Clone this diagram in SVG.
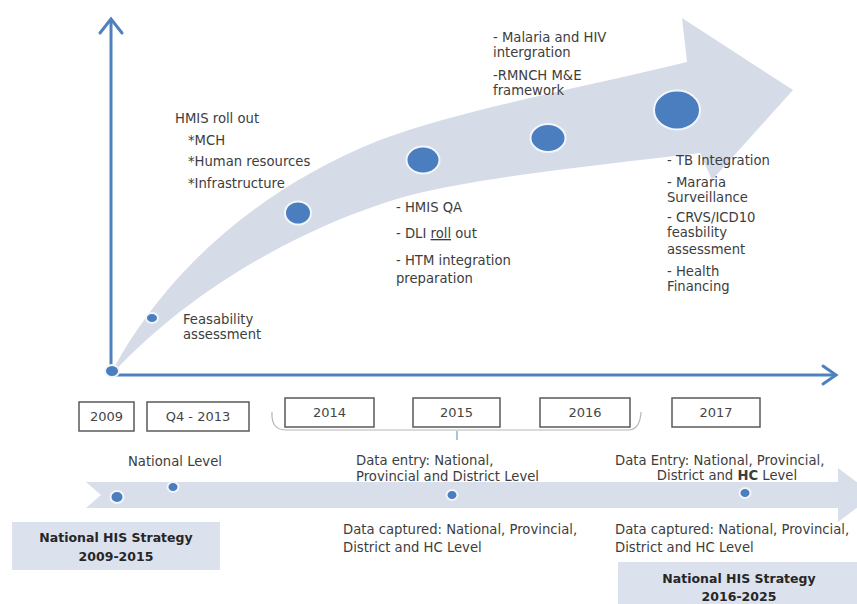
<svg xmlns="http://www.w3.org/2000/svg" width="857" height="604" viewBox="0 0 857 604">
<style>
.t{font-family:"DejaVu Sans","Liberation Sans",sans-serif;font-size:13.2px;fill:#3d3d3d}
.y{font-family:"DejaVu Sans","Liberation Sans",sans-serif;font-size:13px;fill:#454545;text-anchor:middle}
.b{font-family:"DejaVu Sans","Liberation Sans",sans-serif;font-size:12.5px;font-weight:bold;fill:#262626;text-anchor:middle}
.dot{fill:#4a7ebf;stroke:#f2f6fb;stroke-width:2}
.axis{fill:none;stroke:#4f81bd;stroke-width:3;stroke-linecap:round;stroke-linejoin:miter}
.yb{fill:#fff;stroke:#5a5a5a;stroke-width:1.5}
.band{fill:#d5dce8}
.hb{fill:#dbe2ee}
</style>
<rect width="857" height="604" fill="#fff"/>

<g id="growth-arrow">
<path class="band" d="M113,370 C150,300 230,200 380,140 C460,110 580,88 687,62 L682,18 L793,90 L712,180 L700,153 C600,165 470,178 400,198 C300,228 190,290 113,373 Z"/>
</g>

<g id="connectors">
<polyline class="axis" points="111,373 111,20"/>
<polyline class="axis" points="100,33 111,19 122,33"/>
<polyline class="axis" points="111,375 835,375"/>
<polyline class="axis" points="823,366 836,375 823,384"/>
<path d="M272,412 Q271,430 286,430 L628,430 Q640,430 641,412" fill="none" stroke="#b5b5b5" stroke-width="1.2"/>
<line x1="457" y1="431" x2="457" y2="440" stroke="#7a98c6" stroke-width="1.2"/>
</g>

<g id="origin"><ellipse class="dot" cx="112" cy="371" rx="7" ry="6"/></g>

<g id="feasibility">
<ellipse class="dot" cx="152" cy="318" rx="6" ry="5"/>
<text class="t" x="183" y="324">Feasability</text>
<text class="t" x="183" y="339">assessment</text>
</g>

<g id="hmis-rollout">
<ellipse class="dot" cx="298" cy="213" rx="13" ry="11.5"/>
<text class="t" x="175" y="123">HMIS roll out</text>
<text class="t" x="188" y="145">*MCH</text>
<text class="t" x="188" y="166">*Human resources</text>
<text class="t" x="188" y="188">*Infrastructure</text>
</g>

<g id="hmis-qa">
<ellipse class="dot" cx="423" cy="160" rx="16.5" ry="13.5"/>
<text class="t" x="396" y="212">- HMIS QA</text>
<text class="t" x="396" y="238">- DLI <tspan text-decoration="underline">roll</tspan> out</text>
<text class="t" x="396" y="265">- HTM integration</text>
<text class="t" x="396" y="283">preparation</text>
</g>

<g id="malaria-hiv">
<ellipse class="dot" cx="548" cy="138" rx="17.5" ry="14"/>
<text class="t" x="493" y="42">- Malaria and HIV</text>
<text class="t" x="493" y="57">intergration</text>
<text class="t" x="493" y="80">-RMNCH M&amp;E</text>
<text class="t" x="493" y="95">framework</text>
</g>

<g id="tb-integration">
<ellipse class="dot" cx="677" cy="110" rx="23" ry="19.5"/>
<text class="t" x="667" y="165">- TB Integration</text>
<text class="t" x="667" y="187">- Mararia</text>
<text class="t" x="667" y="202">Surveillance</text>
<text class="t" x="667" y="222">- CRVS/ICD10</text>
<text class="t" x="667" y="237">feasbility</text>
<text class="t" x="667" y="254">assessment</text>
<text class="t" x="667" y="276">- Health</text>
<text class="t" x="667" y="291">Financing</text>
</g>

<g id="year-2009"><rect class="yb" x="79" y="402" width="55" height="29"/><text class="y" x="106.5" y="421">2009</text></g>
<g id="year-q4-2013"><rect class="yb" x="147" y="402" width="102" height="29"/><text class="y" x="198" y="421">Q4 - 2013</text></g>
<g id="year-2014"><rect class="yb" x="285" y="398" width="89" height="29"/><text class="y" x="329.5" y="417">2014</text></g>
<g id="year-2015"><rect class="yb" x="413" y="398" width="87" height="29"/><text class="y" x="456.5" y="417">2015</text></g>
<g id="year-2016"><rect class="yb" x="540" y="398" width="90" height="29"/><text class="y" x="585" y="417">2016</text></g>
<g id="year-2017"><rect class="yb" x="672" y="398" width="88" height="29"/><text class="y" x="716" y="417">2017</text></g>

<g id="lower-timeline">
<path class="band" style="fill:#d9dfea" d="M86,482 L838,482 L838,468 L874,495 L838,522 L838,508 L86,508 L101,495 Z"/>
</g>

<g id="national-level">
<ellipse class="dot" cx="117" cy="497" rx="6.5" ry="6"/>
<ellipse class="dot" cx="173" cy="487" rx="5.5" ry="5"/>
<text class="t" x="128" y="466">National Level</text>
</g>

<g id="data-2015">
<ellipse class="dot" cx="452" cy="495" rx="5.5" ry="5"/>
<text class="t" x="356" y="465">Data entry: National,</text>
<text class="t" x="356" y="481">Provincial and District Level</text>
<text class="t" x="343" y="534">Data captured: National, Provincial,</text>
<text class="t" x="343" y="552">District and HC Level</text>
</g>

<g id="data-2017">
<ellipse class="dot" cx="745" cy="493" rx="5.5" ry="5"/>
<text class="t" x="615" y="465">Data Entry: National, Provincial,</text>
<text class="t" x="727" y="480" text-anchor="middle">District and <tspan font-weight="bold">HC</tspan> Level</text>
<text class="t" x="615" y="534">Data captured: National, Provincial,</text>
<text class="t" x="615" y="552">District and HC Level</text>
</g>

<g id="strategy-2009-2015">
<rect class="hb" x="12" y="522" width="208" height="48"/>
<text class="b" x="116" y="542">National HIS Strategy</text>
<text class="b" x="116" y="561">2009-2015</text>
</g>

<g id="strategy-2016-2025">
<rect class="hb" x="618" y="562" width="245" height="48"/>
<text class="b" x="739" y="583">National HIS Strategy</text>
<text class="b" x="739" y="601">2016-2025</text>
</g>
</svg>
